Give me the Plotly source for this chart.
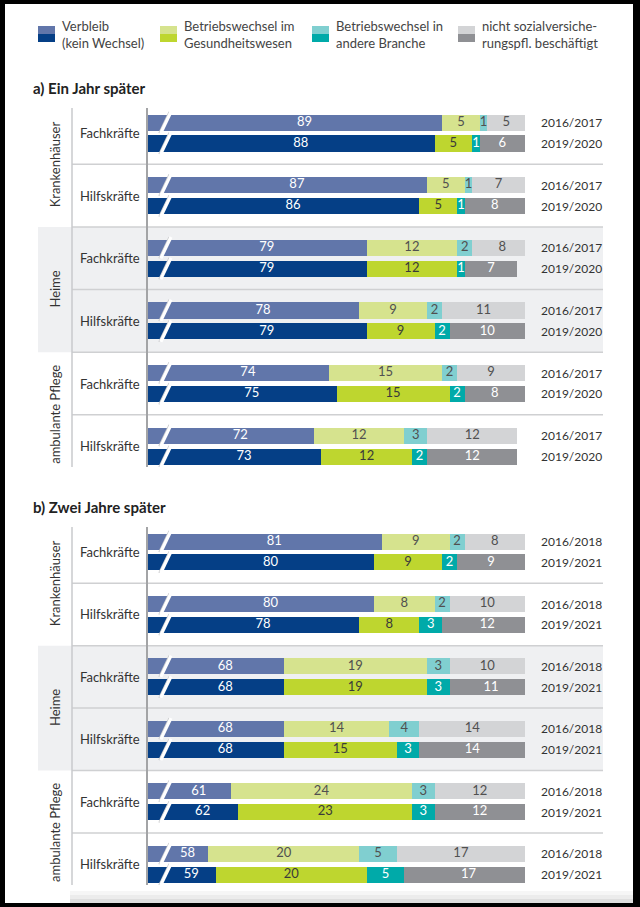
import plotly.graph_objects as go

W, H = 640, 907
FONT = "Lato"

# ---------------- data ----------------
groups = ["Krankenhäuser", "Heime", "ambulante Pflege"]
subgroups = ["Fachkräfte", "Hilfskräfte"]
legend_labels = ["Verbleib<br>(kein Wechsel)",
                 "Betriebswechsel im<br>Gesundheitswesen",
                 "Betriebswechsel in<br>andere Branche",
                 "nicht sozialversiche-<br>rungspfl. beschäftigt"]
panel_titles = ["<b>a) Ein Jahr später</b>", "<b>b) Zwei Jahre später</b>"]
years_a = ["2016/2017", "2019/2020"]
years_b = ["2016/2018", "2019/2021"]

# order: KH-Fach (y1,y2), KH-Hilf, Heime-Fach, Heime-Hilf, amb-Fach, amb-Hilf
a_verbleib = [89, 88, 87, 86, 79, 79, 78, 79, 74, 75, 72, 73]
a_gesund   = [5, 5, 5, 5, 12, 12, 9, 9, 15, 15, 12, 12]
a_branche  = [1, 1, 1, 1, 2, 1, 2, 2, 2, 2, 3, 2]
a_nicht    = [5, 6, 7, 8, 8, 7, 11, 10, 9, 8, 12, 12]

b_verbleib = [81, 80, 80, 78, 68, 68, 68, 68, 61, 62, 58, 59]
b_gesund   = [9, 9, 8, 8, 19, 19, 14, 15, 24, 23, 20, 20]
b_branche  = [2, 2, 2, 3, 3, 3, 4, 3, 3, 3, 5, 5]
b_nicht    = [8, 9, 10, 12, 10, 11, 14, 14, 12, 12, 17, 17]

# ---------------- style ----------------
light = ["#6176aa", "#d6e38e", "#80cfd0", "#d3d4d6"]
dark = ["#053f86", "#bed62f", "#00aaa9", "#8f9094"]
txt_light = ["#ffffff", "#505050", "#505050", "#505050"]
txt_dark = ["#ffffff", "#3a3a3a", "#ffffff", "#ffffff"]

XMIN, XMAX = 50, 100
BREAK_X = 52.5
pos = [3 * k + j for k in range(6) for j in range(2)]
YR = [16.5, -0.7]


def px_x(p):
    return p / W


def px_y(p):
    return 1 - p / H


fig = go.Figure()

panels = [
    ([a_verbleib, a_gesund, a_branche, a_nicht], "x", "y", years_a),
    ([b_verbleib, b_gesund, b_branche, b_nicht], "x2", "y2", years_b),
]

shapes = []
annotations = []

for series, xa, ya, years in panels:
    cum = [0] * 12
    tx, ty, tt, tc = [], [], [], []
    for ci, vals in enumerate(series):
        colors = [light[ci] if j % 2 == 0 else dark[ci] for j in range(12)]
        fig.add_trace(go.Bar(
            x=vals, y=pos, orientation="h", width=0.77,
            marker=dict(color=colors, line=dict(width=0)),
            xaxis=xa, yaxis=ya, showlegend=False, hoverinfo="skip",
        ))
        for i, v in enumerate(vals):
            if ci == 0:
                cx = (BREAK_X + v) / 2
            else:
                cx = cum[i] + v / 2
            tx.append(cx)
            ty.append(pos[i])
            tt.append(str(v))
            tc.append(txt_light[ci] if i % 2 == 0 else txt_dark[ci])
            cum[i] += v
    fig.add_trace(go.Scatter(
        x=tx, y=ty, text=tt, mode="text",
        textfont=dict(family=FONT, size=13, color=tc),
        xaxis=xa, yaxis=ya, showlegend=False, hoverinfo="skip", cliponaxis=False,
    ))

    yref = ya
    # Heime band
    shapes.append(dict(type="rect", xref="paper", yref=yref, x0=px_x(38), x1=px_x(603),
                       y0=5, y1=11, fillcolor="#eff0f2", line=dict(width=0), layer="below"))
    # separators
    for yy in [2, 5, 8, 11, 14]:
        shapes.append(dict(type="line", xref="paper", yref=yref, x0=px_x(72), x1=px_x(603),
                           y0=yy, y1=yy, line=dict(color="#cfd0d2", width=1.5), layer="below"))
    # vertical divider
    shapes.append(dict(type="line", xref="paper", yref=yref, x0=px_x(72), x1=px_x(72),
                       y0=YR[1], y1=YR[0], line=dict(color="#c9cacc", width=1.5), layer="below"))
    # break marks
    xref = xa
    for p in pos:
        shapes.append(dict(type="line", xref=xref, yref=yref, x0=51.45, x1=52.8,
                           y0=p + 0.5, y1=p - 0.52, line=dict(color="#c9cacc", width=1.2)))
        shapes.append(dict(type="line", xref=xref, yref=yref, x0=51.7, x1=53.05,
                           y0=p + 0.5, y1=p - 0.52, line=dict(color="#ffffff", width=3.2)))
    # group labels
    for gi, g in enumerate(groups):
        annotations.append(dict(text=g, xref="paper", yref=yref, x=px_x(55), y=2 + 6 * gi,
                                textangle=-90, showarrow=False, xanchor="center", yanchor="middle",
                                font=dict(family=FONT, size=13, color="#333333")))
    # subgroup labels
    for k in range(6):
        annotations.append(dict(text=subgroups[k % 2], xref="paper", yref=yref, x=px_x(110),
                                y=3 * k + 0.5, showarrow=False, xanchor="center", yanchor="middle",
                                font=dict(family=FONT, size=13, color="#333333")))
    # year labels
    for i, p in enumerate(pos):
        annotations.append(dict(text=years[i % 2], xref="paper", yref=yref, x=px_x(539),
                                y=p, showarrow=False, xanchor="left", yanchor="middle",
                                font=dict(family=FONT, size=12, color="#333333")))

# panel titles
for t, yp in zip(panel_titles, [88, 507]):
    annotations.append(dict(text=t, xref="paper", yref="paper", x=px_x(31), y=px_y(yp),
                            showarrow=False, xanchor="left", yanchor="middle",
                            font=dict(family=FONT, size=15, color="#222222")))

# custom legend
sw_x = [38, 160, 312, 458]
for i, lab in enumerate(legend_labels):
    x0 = sw_x[i]
    shapes.append(dict(type="rect", xref="paper", yref="paper", x0=px_x(x0), x1=px_x(x0 + 17),
                       y0=px_y(34), y1=px_y(26), fillcolor=light[i], line=dict(width=0)))
    shapes.append(dict(type="rect", xref="paper", yref="paper", x0=px_x(x0), x1=px_x(x0 + 17),
                       y0=px_y(42), y1=px_y(34), fillcolor=dark[i], line=dict(width=0)))
    annotations.append(dict(text=lab, xref="paper", yref="paper", x=px_x(x0 + 22), y=px_y(35),
                            showarrow=False, xanchor="left", yanchor="middle", align="left",
                            font=dict(family=FONT, size=13, color="#444444")))

# faint page shadow at the bottom
for (y0, y1, c) in [(891, 895, "#f6f6f6"), (895, 899, "#ececec"), (899, 903, "#dedede")]:
    shapes.append(dict(type="rect", xref="paper", yref="paper", x0=px_x(70), x1=px_x(633),
                       y0=px_y(y1), y1=px_y(y0), fillcolor=c, line=dict(width=0), layer="below"))

# black frame
for (x0, x1, y0, y1) in [(0, 5, 0, H), (633, W, 0, H), (0, W, 0, 4), (0, W, 903, H)]:
    shapes.append(dict(type="rect", xref="paper", yref="paper", x0=px_x(x0), x1=px_x(x1),
                       y0=px_y(y1), y1=px_y(y0), fillcolor="#000000", line=dict(width=0)))

xcommon = dict(range=[XMIN, XMAX], domain=[px_x(148), px_x(525)], showgrid=False,
               zeroline=False, showticklabels=False, ticks="", fixedrange=True)
ycommon = dict(range=YR, showgrid=False, zeroline=False, showticklabels=False, ticks="",
               showline=True, linecolor="#a3a4a6", linewidth=2, fixedrange=True)

fig.update_layout(
    width=W, height=H, margin=dict(l=0, r=0, t=0, b=0),
    paper_bgcolor="#ffffff", plot_bgcolor="rgba(0,0,0,0)",
    barmode="stack", bargap=0,
    xaxis=dict(**xcommon, anchor="y"),
    xaxis2=dict(**xcommon, anchor="y2"),
    yaxis=dict(**ycommon, domain=[px_y(467), px_y(108)], anchor="x"),
    yaxis2=dict(**ycommon, domain=[px_y(885), px_y(527)], anchor="x2"),
    shapes=shapes, annotations=annotations,
    font=dict(family=FONT),
)

fig.write_html("out.html", config={"displayModeBar": False},
               post_script="document.body.style.margin='0';document.body.style.overflow='hidden';")
